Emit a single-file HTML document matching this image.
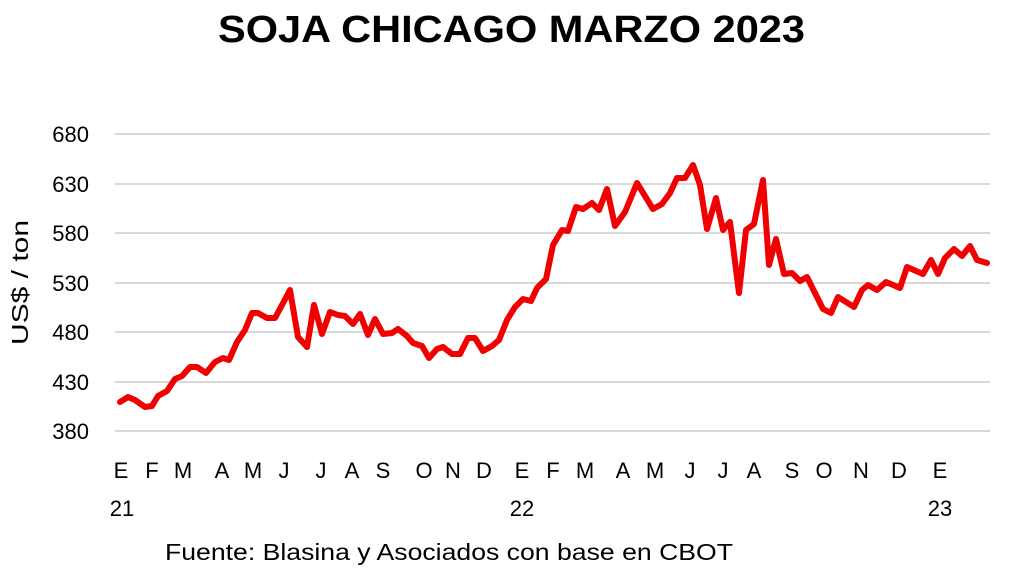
<!DOCTYPE html>
<html><head><meta charset="utf-8"><style>
html,body{margin:0;padding:0;background:#fff;}
svg{display:block;}
text{font-family:"Liberation Sans",sans-serif;fill:#000;}
</style></head><body>
<svg width="1024" height="579" viewBox="0 0 1024 579">
<text x="218" y="42" font-size="38" font-weight="bold" textLength="587" lengthAdjust="spacingAndGlyphs">SOJA CHICAGO MARZO 2023</text>
<g stroke="#d9d9d9" stroke-width="2">
<line x1="115" y1="134" x2="990" y2="134"/><line x1="115" y1="184" x2="990" y2="184"/>
<line x1="115" y1="233" x2="990" y2="233"/><line x1="115" y1="283" x2="990" y2="283"/>
<line x1="115" y1="332" x2="990" y2="332"/><line x1="115" y1="382" x2="990" y2="382"/>
<line x1="115" y1="431" x2="990" y2="431"/>
</g>
<g font-size="22" text-anchor="end">
<text x="89" y="142">680</text><text x="89" y="192">630</text><text x="89" y="241">580</text>
<text x="89" y="291">530</text><text x="89" y="340">480</text><text x="89" y="390">430</text>
<text x="89" y="439">380</text>
</g>
<text transform="translate(28,345) rotate(-90)" font-size="23" textLength="125" lengthAdjust="spacingAndGlyphs">US$ / ton</text>
<g font-size="22" text-anchor="middle">
<text x="121" y="478">E</text><text x="152" y="478">F</text><text x="183" y="478">M</text>
<text x="222" y="478">A</text><text x="253" y="478">M</text><text x="284" y="478">J</text>
<text x="321" y="478">J</text><text x="352" y="478">A</text><text x="383" y="478">S</text>
<text x="424" y="478">O</text><text x="453" y="478">N</text><text x="484" y="478">D</text>
<text x="522" y="478">E</text><text x="553" y="478">F</text><text x="585" y="478">M</text>
<text x="623" y="478">A</text><text x="655" y="478">M</text><text x="690" y="478">J</text>
<text x="723" y="478">J</text><text x="754" y="478">A</text><text x="792" y="478">S</text>
<text x="824" y="478">O</text><text x="861" y="478">N</text><text x="899" y="478">D</text>
<text x="940" y="478">E</text>
<text x="122" y="516">21</text><text x="522" y="516">22</text><text x="940" y="516">23</text>
</g>
<text x="165" y="560" font-size="23" textLength="568" lengthAdjust="spacingAndGlyphs">Fuente: Blasina y Asociados con base en CBOT</text>
<polyline fill="none" stroke="#f00000" stroke-width="6" stroke-linejoin="round" stroke-linecap="round" points="
120,402 128,397 135,400 145,407 152,406 158,396 167,391 175,379 182,376 190,367 197,367 206,373 215,362 223,358 229,360 237,342 245,330 252,313 258,313 267,318 275,318 282,305 290,290 298,337 307,347 314,305 322,334 330,312 338,315 345,316 353,324 360,314 368,335 375,319 383,334 392,333 398,329 407,336 413,343 422,346 429,358 437,349 443,347 452,354 460,354 468,338 475,338 483,351 492,346 499,340 507,320 515,307 523,299 531,301 537,288 546,279 553,245 562,230 568,231 576,207 583,209 592,203 599,210 607,189 615,226 625,212 637,183 653,209 662,204 670,193 677,178 685,178 693,165 700,185 707,229 716,198 723,230 730,222 739,293 746,230 754,224 763,180 769,265 776,239 784,274 792,273 800,281 807,277 815,293 823,309 831,313 838,297 854,307 862,290 868,285 877,290 886,282 900,288 907,267 923,274 931,260 938,274 945,258 954,249 962,256 970,246 977,260 987,263"/>
</svg>
</body></html>
